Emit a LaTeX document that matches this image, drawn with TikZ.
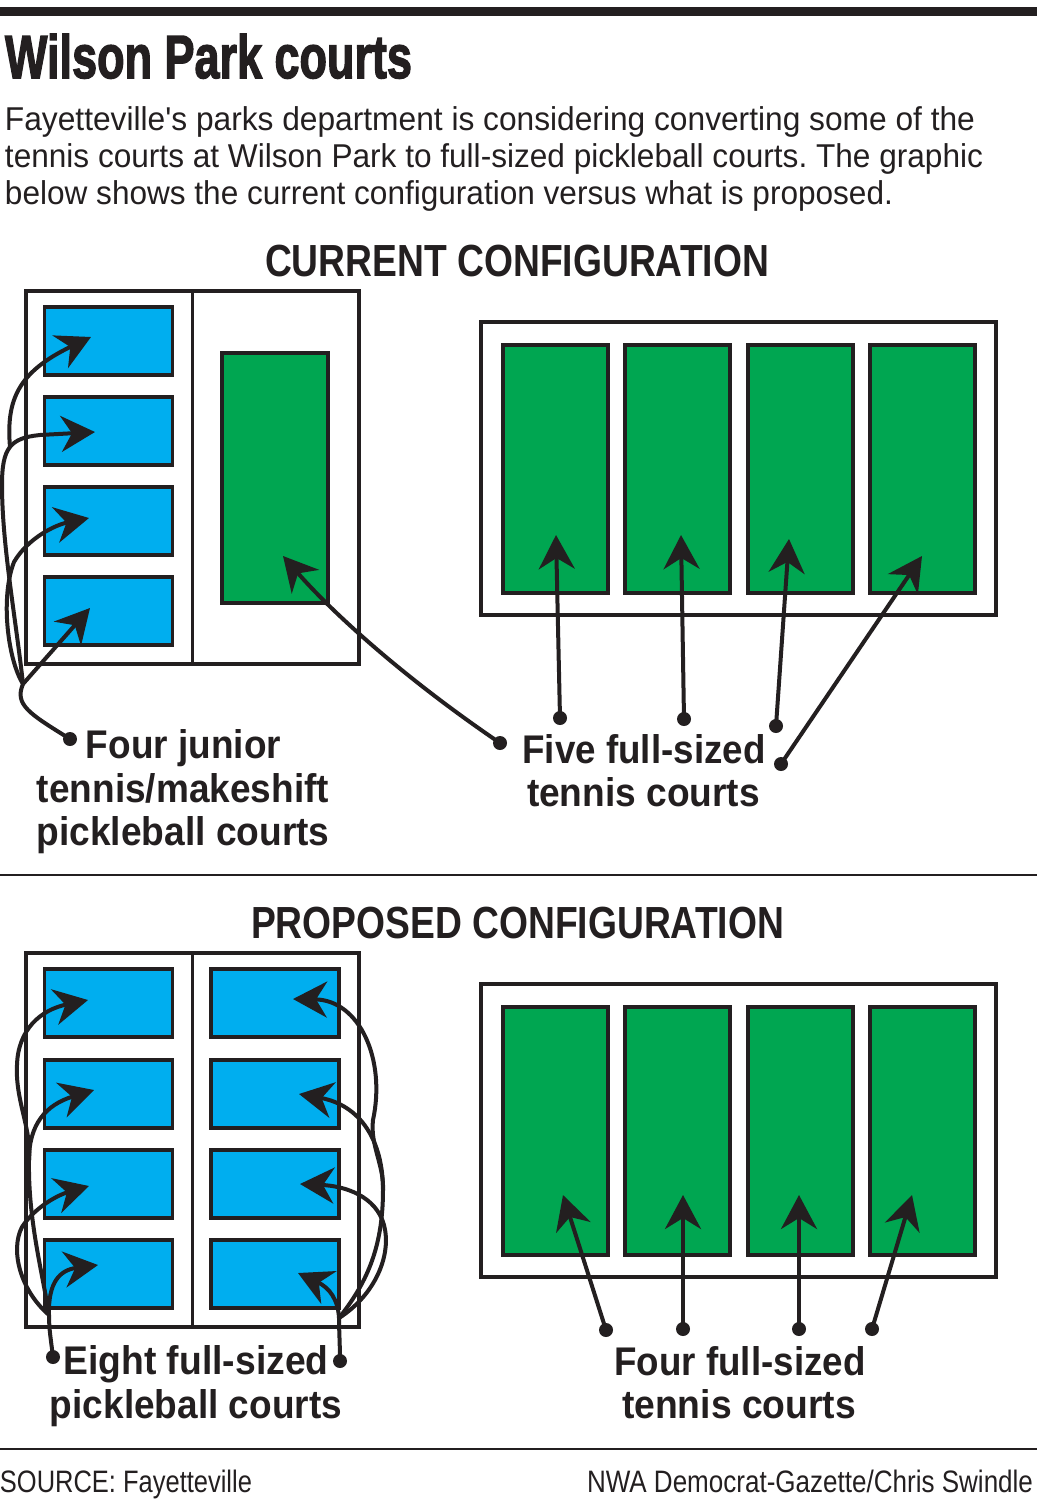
\documentclass[tikz,border=0pt]{standalone}
\usepackage{fontspec}
\setmainfont{Liberation Sans}
\newfontfamily\heavy{Liberation Sans Bold}[FakeBold=2.5]
\newfontfamily\plainf{Liberation Sans}
\usetikzlibrary{arrows.meta}
\definecolor{ink}{HTML}{231F20}
\definecolor{courtblue}{HTML}{00AEEF}
\definecolor{courtgreen}{HTML}{00A651}
\newcommand{\fw}[2]{\resizebox{#1}{\height}{#2}}
\frenchspacing
\begin{document}
\begin{tikzpicture}[x=1pt,y=-1pt,
  court/.style={draw=ink, line width=3.5pt, inner sep=0pt, outer sep=0pt},
  bluecourt/.style={court, fill=courtblue, minimum width=128pt, minimum height=68pt},
  greencourt/.style={court, fill=courtgreen, minimum width=105pt, minimum height=248pt},
  frame/.style={draw=ink, line width=3.5pt, fill=white, inner sep=0pt, outer sep=0pt},
  arr/.style={draw=ink, line width=4pt, -{Stealth[length=34pt,width=36pt,inset=11pt]}},
  lead/.style={draw=ink, line width=4pt},
  dot/.style={circle, fill=ink, inner sep=0pt, minimum size=14pt},
  txt/.style={inner sep=0pt, outer sep=0pt, text=ink},
  body/.style={txt, anchor=base west, font=\plainf\fontsize{33}{33}\selectfont},
  head/.style={txt, anchor=base, font=\fontsize{45}{45}\selectfont\bfseries},
  lbl/.style={txt, anchor=base, font=\fontsize{40}{40}\selectfont\bfseries},
  foot/.style={txt, font=\fontsize{31}{31}\selectfont},
]
\fill[white] (0,0) rectangle (1037,1504);
\useasboundingbox (0,0) rectangle (1037,1504);

% top rule, separators
\fill[ink] (0,7.5) rectangle (1037,16);
\draw[ink, line width=2pt] (0,875) -- (1037,875);
\draw[ink, line width=2pt] (0,1449) -- (1037,1449);

% title and intro
\node[txt, anchor=base west] (title) at (5,78) {\heavy\fontsize{61}{61}\selectfont\fw{407pt}{Wilson Park courts}};
\node[body] (b1) at (5,130) {\fw{970pt}{Fayetteville's parks department is considering converting some of the}};
\node[body] (b2) at (5,167) {\fw{978pt}{tennis courts at Wilson Park to full-sized pickleball courts. The graphic}};
\node[body] (b3) at (5,204) {\fw{888pt}{below shows the current configuration versus what is proposed.}};

% ---------------- CURRENT ----------------
\node[head] (hcur) at (517,276) {\fw{504pt}{CURRENT CONFIGURATION}};

\node[frame, minimum width=333pt, minimum height=373pt] (curL) at (192.5,477.5) {};
\draw[ink, line width=3.5pt] (curL.north) -- (curL.south);
\node[bluecourt] (cb1) at (108.5,341) {};
\node[bluecourt] (cb2) at (108.5,431) {};
\node[bluecourt] (cb3) at (108.5,521) {};
\node[bluecourt] (cb4) at (108.5,611) {};
\node[greencourt, minimum width=106pt, minimum height=250pt] (cj) at (275,478) {};

\node[frame, minimum width=515pt, minimum height=293pt] (curR) at (738.5,468.5) {};
\node[greencourt] (cg1) at (555.5,469) {};
\node[greencourt] (cg2) at (677.5,469) {};
\node[greencourt] (cg3) at (800.5,469) {};
\node[greencourt] (cg4) at (922.5,469) {};

% arrows: four junior courts
\node[dot] (dj) at (70,739) {};
\coordinate (jA) at (23,684);
\coordinate (jB) at (10,447);
\coordinate (cA) at (14,562);
\coordinate (ta1) at (91,337);
\coordinate (ta2) at (95,432);
\coordinate (ta3) at (89,518);
\coordinate (ta4) at (90,608);
\draw[lead] (dj.center) .. controls (30,714) and (14,705) .. (jA);
\draw[arr] (jA) -- (ta4);
\draw[arr] (jA) .. controls (8,660) and (0,598) .. (cA) .. controls (28,538) and (55,525) .. (ta3);
\draw[arr] (jA) .. controls (16,620) and (2,545) .. (2,485) .. controls (2,448) and (10,438) .. (40,435) -- (ta2);
\draw[arr] (jB) .. controls (6,400) and (18,372) .. (ta1);

% arrow: junior full court
\node[dot] (dg) at (500,743) {};
\coordinate (tg) at (283,556);
\draw[arr] (dg.center) .. controls (400,675) and (330,610) .. (tg);

% arrows: four full-sized courts
\node[dot] (df1) at (560,718) {};
\node[dot] (df2) at (684,719) {};
\node[dot] (df3) at (776,726) {};
\node[dot] (df4) at (781,764) {};
\coordinate (tf1) at (556,535);
\coordinate (tf2) at (681,535);
\coordinate (tf3) at (789,539);
\coordinate (tf4) at (922,556);
\draw[arr] (df1.center) -- (tf1);
\draw[arr] (df2.center) -- (tf2);
\draw[arr] (df3.center) -- (tf3);
\draw[arr] (df4.center) -- (tf4);

\node[lbl] (lj1) at (183.5,758) {\fw{195pt}{Four junior}};
\node[lbl] (lj2) at (183,802) {\fw{292pt}{tennis/makeshift}};
\node[lbl] (lj3) at (183,845) {\fw{293pt}{pickleball courts}};
\node[lbl] (lf1) at (644,763) {\fw{243pt}{Five full-sized}};
\node[lbl] (lf2) at (643.5,806) {\fw{233pt}{tennis courts}};

% ---------------- PROPOSED ----------------
\node[head] (hpro) at (517.5,938) {\fw{533pt}{PROPOSED CONFIGURATION}};

\node[frame, minimum width=333pt, minimum height=374pt] (proL) at (192.5,1140) {};
\draw[ink, line width=3.5pt] (proL.north) -- (proL.south);
\node[bluecourt] (pl1) at (108.5,1003) {};
\node[bluecourt] (pl2) at (108.5,1094) {};
\node[bluecourt] (pl3) at (108.5,1184) {};
\node[bluecourt] (pl4) at (108.5,1274) {};
\node[bluecourt] (pr1) at (275,1003) {};
\node[bluecourt] (pr2) at (275,1094) {};
\node[bluecourt] (pr3) at (275,1184) {};
\node[bluecourt] (pr4) at (275,1274) {};

\node[frame, minimum width=515pt, minimum height=293pt] (proR) at (738.5,1130.5) {};
\node[greencourt] (pg1) at (555.5,1131) {};
\node[greencourt] (pg2) at (677.5,1131) {};
\node[greencourt] (pg3) at (800.5,1131) {};
\node[greencourt] (pg4) at (922.5,1131) {};

% left pickleball arrows
\node[dot] (dl) at (53,1357) {};
\coordinate (jL) at (49,1315);
\coordinate (jL2) at (29,1160);
\coordinate (tl1) at (88,1000);
\coordinate (tl2) at (94,1090);
\coordinate (tl3) at (89,1186);
\coordinate (tl4) at (98,1265);
\draw[lead] (dl.center) .. controls (51,1340) and (49,1330) .. (jL);
\draw[arr] (jL) .. controls (48,1282) and (60,1270) .. (tl4);
\draw[arr] (jL) .. controls (20,1290) and (10,1250) .. (22,1227) .. controls (35,1207) and (58,1195) .. (tl3);
\draw[lead] (jL) .. controls (42,1270) and (28,1220) .. (jL2);
\draw[arr] (jL2) .. controls (29,1125) and (45,1105) .. (tl2);
\draw[arr] (jL2) .. controls (32,1130) and (15,1100) .. (17,1065) .. controls (18,1030) and (40,1010) .. (tl1);

% right pickleball arrows
\node[dot] (dr) at (340,1361) {};
\coordinate (jR) at (339,1318);
\coordinate (jR2) at (383,1190);
\coordinate (tr1) at (293,999);
\coordinate (tr2) at (299,1094);
\coordinate (tr3) at (300,1184);
\coordinate (tr4) at (298,1273);
\draw[lead] (dr.center) .. controls (340,1345) and (339,1330) .. (jR);
\draw[arr] (jR) .. controls (338,1300) and (330,1288) .. (tr4);
\draw[arr] (jR) .. controls (375,1295) and (392,1255) .. (384,1225) .. controls (376,1196) and (345,1186) .. (tr3);
\draw[lead] (jR) .. controls (365,1285) and (383,1250) .. (jR2);
\draw[arr] (jR2) .. controls (383,1140) and (360,1105) .. (tr2);
\draw[arr] (jR2) .. controls (384,1165) and (370,1145) .. (373,1120) .. controls (386,1060) and (360,1000) .. (tr1);

% tennis arrows
\node[dot] (dp1) at (606,1330) {};
\node[dot] (dp2) at (683,1329) {};
\node[dot] (dp3) at (799,1329) {};
\node[dot] (dp4) at (872,1329) {};
\coordinate (tp1) at (563,1195);
\coordinate (tp2) at (683,1195);
\coordinate (tp3) at (799,1195);
\coordinate (tp4) at (912,1195);
\draw[arr] (dp1.center) -- (tp1);
\draw[arr] (dp2.center) -- (tp2);
\draw[arr] (dp3.center) -- (tp3);
\draw[arr] (dp4.center) -- (tp4);

\node[lbl] (le1) at (196,1374) {\fw{265pt}{Eight full-sized}};
\node[lbl] (le2) at (196,1418) {\fw{292pt}{pickleball courts}};
\node[lbl] (lt1) at (740,1375) {\fw{251pt}{Four full-sized}};
\node[lbl] (lt2) at (739,1418) {\fw{234pt}{tennis courts}};

% footer
\node[foot, anchor=base west] (src) at (0,1492) {\fw{252pt}{SOURCE: Fayetteville}};
\node[foot, anchor=base east] (cred) at (1033,1492) {\fw{446pt}{NWA Democrat-Gazette/Chris Swindle}};
\end{tikzpicture}
\end{document}
